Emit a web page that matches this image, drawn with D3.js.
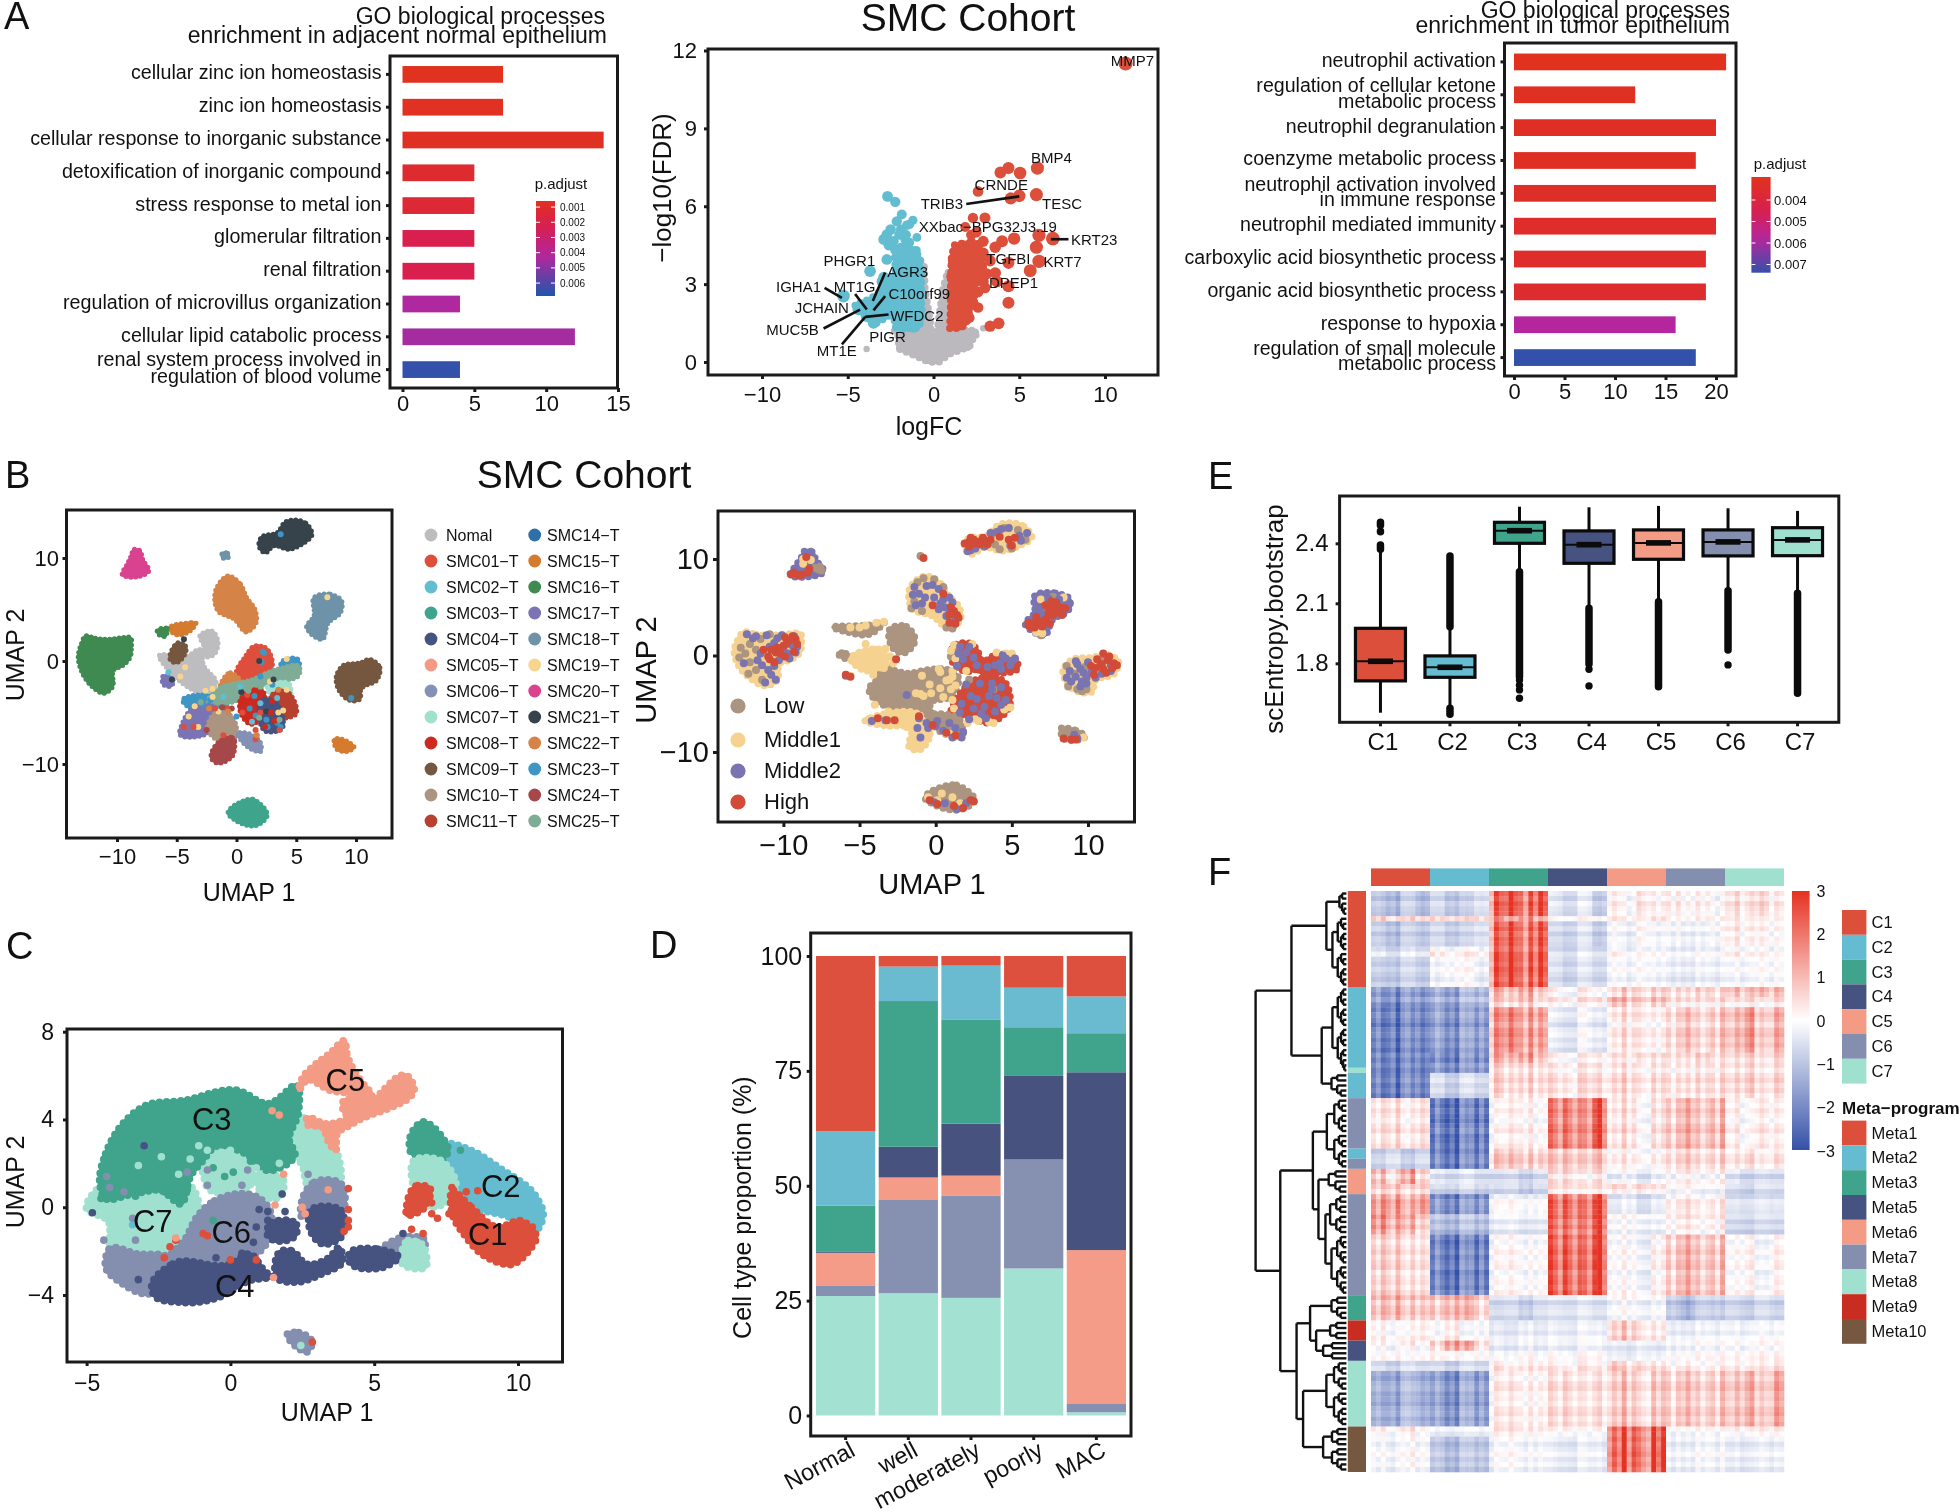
<!DOCTYPE html>
<html><head><meta charset="utf-8">
<script src="https://cdn.jsdelivr.net/npm/d3@7"></script>
<style>
html,body{margin:0;padding:0;background:#fff}
svg{display:block;font-family:"Liberation Sans",Arial,sans-serif;filter:blur(0.45px)}
text{fill:#111}
</style></head><body><svg id="fig" width="1960" height="1512"></svg>
<script>
// ---------- Panel A data ----------
const goNormalTerms=["cellular zinc ion homeostasis","zinc ion homeostasis","cellular response to inorganic substance","detoxification of inorganic compound","stress response to metal ion","glomerular filtration","renal filtration","regulation of microvillus organization","cellular lipid catabolic process","renal system process involved in\nregulation of blood volume"];
const goNormalCounts=[7,7,14,5,5,5,5,4,12,4];
const goNormalP=[0.0005,0.0006,0.0007,0.0011,0.0013,0.0022,0.0022,0.0043,0.0045,0.0065];
const goNormalPTicks=[0.001,0.002,0.003,0.004,0.005,0.006];
const goTumorTerms=["neutrophil activation","regulation of cellular ketone\nmetabolic process","neutrophil degranulation","coenzyme metabolic process","neutrophil activation involved\nin immune response","neutrophil mediated immunity","carboxylic acid biosynthetic process","organic acid biosynthetic process","response to hypoxia","regulation of small molecule\nmetabolic process"];
const goTumorCounts=[21,12,20,18,20,20,19,19,16,18];
const goTumorP=[0.0030,0.0031,0.0032,0.0032,0.0033,0.0034,0.0034,0.0035,0.0058,0.0074];
const goTumorPTicks=[0.004,0.005,0.006,0.007];
// volcano (logFC, -log10 FDR)
const volcanoUp=[[11.2,11.5],[6.06,7.47],[4.37,7.47],[3.9,7.3],[5.05,7.28],[6,6.45],[2.6,6.57],[4.5,6.3],[5,6.4],[2.3,5.55],[3,5.55],[1.85,5.2],[6.15,4.88],[6.96,4.75],[4.7,4.75],[4,4.65],[3.6,4.42],[2.9,4.65],[2.5,5],[6,4.42],[6.15,3.88],[4.37,3.82],[5.64,3.52],[3.6,3.43],[3.7,3.1],[4.37,2.92],[3,2.86],[4.37,2.28],[3.8,1.49],[3.3,1.38],[2.6,2.1],[2.1,1.7],[1.3,4.3],[1.7,4.5],[2.2,4.6],[2.6,4.5],[1.1,3.9],[1,3.3],[1,2.6],[1.1,1.6],[1.4,1.4],[2,1.9],[2.8,3.6],[2.9,3.1],[2.6,2.7],[2.3,2.3],[1.9,1.6],[1.5,4.1],[2.2,4.9],[2.9,4.2],[3.3,3.9],[3.1,3.4],[2,4.3]];
const volcanoDown=[[-2.68,6.38],[-2.23,6.17],[-1.85,5.68],[-1.2,5.46],[-2.14,5.42],[-1.55,5.27],[-2.72,4.91],[-2.9,4.72],[-2.33,4.65],[-1.65,4.72],[-0.97,4.8],[-2.72,3.95],[-3.7,3.5],[-2.9,3.27],[-5.25,2.54],[-4.37,2.03],[-3.5,1.5],[-3.9,1.77],[-2.2,4.3],[-1.8,4.4],[-1.4,4.6],[-1,4.3],[-0.8,3.9],[-2,4.9],[-1.6,4.9],[-2.5,2.8],[-3,3.1],[-2.8,2.4],[-3.5,2.1],[-4.1,2],[-3.2,1.7],[-2.2,1.6],[-1.2,1.3],[-1.8,1.3],[-0.7,2],[-2.6,4.5],[-1.4,5.3],[-2.5,5.1],[-1.9,5.1]];
const volcanoNs=[[-3.9,0.5],[-2,0.55],[-1.6,0.6],[2,0.55],[2.5,1.03],[2.9,1.3],[-0.8,0.2],[1,0.35],[1.3,0.6],[-1,1],[-2.3,1.2],[-0.7,3.7],[-0.55,3.2]];
const volcanoUpMass=[[0.95,1.3],[1,2.2],[1,3.2],[1.05,4],[1.2,4.5],[1.9,4.6],[2.6,4.3],[2.9,3.8],[2.9,3.2],[2.4,3],[2.4,2.3],[2,2],[1.9,1.5],[1.6,1.3]];
const volcanoDownMass=[[-2.3,4.4],[-1.5,4.5],[-0.95,4.2],[-0.7,3.5],[-0.7,2.5],[-0.7,1.6],[-0.9,1.3],[-2.2,1.3],[-2.3,1.9],[-3.3,1.5],[-3.9,1.7],[-4.6,2.2],[-3.8,2.4],[-3.3,2.6],[-2.5,3.2],[-2.2,3.4]];
const volcanoNsMass=[[-2.1,1.25],[-0.8,1.25],[-0.75,3.9],[-0.55,3.7],[-0.5,2.8],[-0.2,1.6],[-0.05,0.6],[0.1,0.6],[0.3,1.6],[0.55,2.8],[0.85,3.5],[1,3],[1,1.3],[2.5,1.2],[2.1,0.6],[0.9,0.3],[0.3,0],[-0.3,0],[-0.9,0.2],[-2,0.5]];
const geneLabels=[["MMP7",11.6,11.6],["BMP4",6.87,7.86],["CRNDE",3.95,6.83],["TRIB3",0.49,6.09],["TESC",7.5,6.09],["XXbac−BPG32J3.19",3.17,5.23],["KRT23",9.37,4.72],["TGFBI",4.37,3.97],["KRT7",7.52,3.88],["DPEP1",4.67,3.05],["PHGR1",-4.9,3.9],["AGR3",-1.5,3.46],["IGHA1",-7.87,2.9],["MT1G",-4.6,2.92],["C10orf99",-0.83,2.63],["JCHAIN",-6.51,2.09],["WFDC2",-0.97,1.8],["MUC5B",-8.22,1.26],["PIGR",-2.68,0.97],["MT1E",-5.64,0.42]];
const geneLinks=[[1.91,6.09,5,6.38],[6.84,4.73,7.87,4.73],[-2.82,3.45,-3.54,2.35],[-2.82,2.54,-3.5,1.99],[-4.57,2.62,-3.89,2.02],[-6.35,2.86,-5.34,2.47],[-6.41,1.29,-4.28,2.02],[-2.62,1.83,-3.98,1.74],[-5.34,0.68,-3.98,1.74]];

// ---------- Panel B data ----------
const sampleNames=["Nomal","SMC01−T","SMC02−T","SMC03−T","SMC04−T","SMC05−T","SMC06−T","SMC07−T","SMC08−T","SMC09−T","SMC10−T","SMC11−T","SMC14−T","SMC15−T","SMC16−T","SMC17−T","SMC18−T","SMC19−T","SMC20−T","SMC21−T","SMC22−T","SMC23−T","SMC24−T","SMC25−T"];
const sampleColors=["#bdbdc0","#dd4f3c","#62bcd2","#3ea58c","#46527f","#f49a84","#8490b5","#a0e0cc","#cc2a1f","#75573f","#ab9480","#b7402f","#2f70a8","#d57b2e","#3e8a50","#7a74b4","#6e93a8","#f8d58f","#d9428e","#36434a","#d58347","#3f96c4","#a64749","#7fac96"];
const islandGreen=[[-12.63,2.43],[-11.8,2.2],[-10.9,2.1],[-9.6,2.25],[-8.87,2.27],[-8.8,1.3],[-8.87,0.49],[-9.6,-0.5],[-10.24,-0.81],[-10.41,-2.59],[-11.09,-3.14],[-12.12,-2.43],[-12.97,-0.97],[-13.24,0.49],[-13,1.6]];
const islandPink=[[-8.6,10.84],[-8.12,10.74],[-7.85,9.87],[-7.34,8.74],[-8.36,8.16],[-9.56,8.41],[-9.15,9.39],[-8.81,10.2]];
const islandDark=[[4.1,13.5],[5.8,13.37],[6.32,12.3],[5.46,11.33],[4.44,10.84],[3.07,11.17],[2.39,10.5],[1.88,11.17],[2.05,11.97],[3.41,12.46]];
const islandTiny=[[-1.2,10.45],[-0.75,10.45],[-0.65,10.1],[-1.2,10.05]];
const islandOrange=[[-0.68,8.25],[0.34,7.44],[0.85,6.15],[1.54,5.02],[1.64,3.72],[0.85,2.82],[-0.17,4.05],[-1.54,4.85],[-1.71,6.96]];
const islandSlate=[[6.48,6.15],[7.85,6.47],[8.8,5.82],[8.7,4.69],[7.68,3.72],[7.17,2.1],[6.14,2.75],[5.87,3.24],[6.48,4.37]];
const islandBrown=[[11.09,0.16],[12,-0.65],[11.78,-1.78],[10.41,-2.75],[10.31,-3.72],[9.73,-3.88],[8.7,-3.07],[8.36,-1.46],[8.87,-0.49],[10.41,-0.16]];
const islandSmall=[[8.19,-7.6],[9.2,-7.77],[9.83,-8.41],[9.39,-8.74],[8.36,-8.51]];
const islandBottom=[[-0.68,-14.89],[1.37,-13.43],[2.56,-15.05],[1.71,-15.95],[0,-15.53]];
const sampleBlobs=[
 ["SMC16−T",islandGreen],["SMC20−T",islandPink],["SMC21−T",islandDark],["SMC18−T",islandTiny],["SMC22−T",islandOrange],["SMC18−T",islandSlate],["SMC09−T",islandBrown],["SMC15−T",islandSmall],["SMC03−T",islandBottom],
 ["SMC17−T",[[-6.14,-1.46],[-5.29,-1.78],[-5.46,-2.43],[-6.14,-2.27]]],
 ["Nomal",[[-6.48,0.49],[-4.1,0.49],[-3.07,1.13],[-2.73,-0.49],[-1.71,-2.1],[-2.39,-3.24],[-3.75,-2.75],[-5.46,-1.13]]],
 ["Nomal",[[-3.07,2.43],[-2.05,2.91],[-1.54,1.78],[-2.05,0.49],[-2.56,0.42],[-2.73,1.46]]],
 ["SMC01−T",[[1.54,1.46],[2.39,1.3],[2.9,-0.81],[2.05,-1.46],[1.37,-1.94],[0,-1.13],[0.68,0.32]]],
 ["SMC22−T",[[-1.37,-2.75],[-0.51,-1.13],[0.34,-2.1],[-0.17,-2.75]]],
 ["SMC23−T",[[3.75,-0.16],[5.12,0.16],[5.29,-0.65],[3.75,-1.13]]],
 ["SMC23−T",[[-4.5,-3.9],[-2.6,-3.3],[-0.7,-4.5],[-2.4,-5.1],[-4,-4.5]]],
 ["SMC25−T",[[5.29,-0.65],[5.29,-1.13],[2.73,-2.1],[-0.68,-4.05],[-2.39,-3.88],[-1.71,-2.91],[1.37,-1.78],[3.41,-0.81]]],
 ["SMC07−T",[[2.56,-2.59],[4.44,-2.27],[4.51,-3.4],[3.07,-3.56]]],
 ["SMC11−T",[[2.9,-3.4],[4.1,-2.91],[4.95,-5.18],[3.75,-5.5],[2.9,-4.37]]],
 ["SMC08−T",[[0.34,-3.72],[2.05,-2.75],[2.39,-5.02],[1.19,-6.15],[0.34,-5.02]]],
 ["SMC04−T",[[2.22,-3.72],[3.07,-3.88],[3.75,-6.63],[2.39,-6.8],[1.88,-5.34]]],
 ["SMC17−T",[[-3.75,-4.69],[-2.05,-4.37],[-2.39,-6.96],[-4.78,-6.96],[-4.61,-6.31]]],
 ["SMC10−T",[[-1.71,-5.02],[-0.85,-5.02],[0,-6.47],[-0.34,-7.77],[-1.71,-7.6],[-2.39,-6.63]]],
 ["SMC24−T",[[-1.37,-7.77],[-0.34,-7.44],[-0.34,-9.22],[-1.71,-9.87],[-2.05,-9.55]]],
 ["SMC06−T",[[0.17,-6.96],[0.68,-6.96],[2.05,-8.09],[2.05,-8.74],[1.02,-8.41]]],
 ["SMC09−T",[[-4.78,1.78],[-4.27,1.46],[-5.12,-0.16],[-5.46,0]]],
 ["SMC15−T",[[-5.63,3.07],[-3.75,3.72],[-3.41,3.72],[-3.75,3.07],[-5.12,2.59]]],
 ["SMC16−T",[[-6.64,2.9],[-5.8,3.15],[-5.97,2.4],[-6.47,2.55]]]
];
const sampleDots=[["SMC23−T",-3.8,-4.1],["SMC23−T",-3.3,-3.9],["SMC23−T",-2.8,-4.2],["SMC23−T",-2.2,-3.8],["SMC23−T",-1.4,-4.8],["SMC23−T",0,-5.4],["SMC23−T",2.1,-0.1],["SMC23−T",2.2,0.9],["SMC23−T",2.3,0.8],["SMC23−T",2,-1.5],["SMC23−T",1.1,-4.6],["SMC23−T",1.6,-5.3],["SMC23−T",2.5,-5.7],["SMC23−T",3.7,-6.4],["SMC23−T",3.4,-6],["SMC23−T",2.6,-6.4],["SMC23−T",3.7,12.3],["SMC23−T",9.6,-3.6],["SMC23−T",3,-2.3],["SMC23−T",1.5,-3.4],
["SMC19−T",7.6,6.2],["SMC19−T",-2.6,-2.9],["SMC19−T",-2,-2.7],["SMC19−T",-3.2,-6.4],["SMC19−T",-4,-5.4],["SMC19−T",-3.5,-4.4],["SMC19−T",3.5,-5],["SMC19−T",2.8,-2],["SMC19−T",4.2,-2.8],["SMC19−T",3.9,-4.8],["SMC19−T",-4.7,-1.5],["SMC19−T",-4.3,-0.6],["SMC19−T",-2,-3.5],["SMC19−T",-1.5,-4.9],["SMC19−T",4.2,0.2],
["SMC01−T",-4.4,-6.4],["SMC01−T",-3.6,-6.4],["SMC01−T",-1.1,-7.2],["SMC01−T",1.6,-6.7],["SMC01−T",1.6,-7.6],["SMC01−T",2,-5],["SMC01−T",0.9,-3.3],["SMC01−T",3.6,-6.7],["SMC01−T",-1.8,-4.6],["SMC01−T",-0.8,-4.6],["SMC01−T",0.5,-5],
["SMC21−T",-4.4,2.1],["SMC21−T",-5.4,-1.8],["SMC21−T",0.4,-3],["SMC21−T",2.5,-4.9],["SMC21−T",3.1,-1.8],["SMC21−T",1.9,0],
["SMC08−T",2.9,-5],["SMC08−T",2.4,-6.4],["SMC08−T",3,-3.9],["SMC08−T",3.2,-5.8],
["SMC02−T",-5.7,-1.1],["SMC02−T",-1.1,-3.5],["SMC02−T",0.3,-2.5],["SMC02−T",2,-4.1],["SMC02−T",3.4,-3.6],["SMC02−T",1.3,-5.9],
["SMC25−T",-3,-4],["SMC25−T",1.9,-5.5],["SMC25−T",3.6,-5.7],["SMC25−T",1,-2.9],["SMC25−T",2,-2.5],
["SMC24−T",-0.2,-7.8],["SMC24−T",-1.2,-4.5],["SMC24−T",-0.4,-4.6],["SMC24−T",-2.5,-6.7],
["SMC22−T",-2.3,-4.6],["SMC22−T",-0.7,-4.9],["SMC22−T",1.7,-7.2],["SMC22−T",3.5,-2.8]];

const gradeNames=["Low","Middle1","Middle2","High"];
const gradeColors=["#ab9480","#f5d28f","#7a74b0","#d24a38"];
const gradeBlobs=[
 ["Middle1",islandGreen],["Middle2",islandPink],["Middle1",islandDark],["Middle1",islandOrange],["Middle2",islandSlate],["Middle1",islandBrown],["Low",islandSmall],["Low",islandBottom],
 ["Low",[[-4.4,-3.55],[-3.72,-2.17],[-4.63,-1.14],[-4.18,-0.45],[-2.82,-1.48],[-1.92,-1.83],[-0.56,-1.48],[0.79,-1.48],[1.47,-2.17],[1.02,-4.24],[-0.34,-4.93],[-0.34,-6.31],[-1.24,-5.97],[-2.37,-5.62],[-3.27,-5.28],[-4.18,-4.24]]],
 ["Low",[[-3.05,2.66],[-1.92,3],[-1.35,1.62],[-2.14,0.24],[-2.71,0.59],[-3.05,1.62]]],
 ["Low",[[-6.66,2.83],[-3.72,3.34],[-3.39,3.52],[-4.18,2.31],[-5.98,2.48]]],
 ["Low",[[-6.43,0.24],[-5.9,0.2],[-5.53,-0.1],[-6,-0.3]]],
 ["Middle1",[[-5.6,-0.4],[-3.4,0.4],[-3.2,-0.6],[-4.6,-1.6]]],
 ["High",[[1.47,-4.24],[2.6,-2.52],[4.51,-2.69],[4.85,-5.28],[3.5,-7],[2.14,-6.31],[1.02,-5.97]]],
 ["High",[[1.13,0.93],[2.26,1.28],[2.93,-1.14],[2.03,-1.66],[1.13,-0.79]]],
 ["High",[[2.82,-1.66],[3.95,0.07],[5.3,-0.45],[5.42,-1.14],[3.72,-1.83]]],
 ["Middle1",[[-4.6,-6.9],[-1,-6.2],[-0.4,-8.4],[-1.1,-9.8],[-1.7,-9.6],[-1.6,-7.6],[-3.2,-7.3]]],
 ["Low",[[-0.5,-6.3],[1.6,-6.7],[1.8,-8.2],[0.4,-8]]]
];
const gradeLowDots=[[-12.2,1.2],[-12.5,0.2],[-11.8,-1.5],[-11.5,1.7],[-7.7,8.9],[-7.5,8.8],[-7.9,9.1],[-7.6,9.2],[3.7,12.6],[4.2,11],[4.5,13.2],[-1.6,4.9],[-0.8,8],[0.9,3.1],[1.1,2.8],[-1.4,5.6],[7.7,6.1],[6.9,2.1],[8.1,5.2],[8.7,-3.2],[9.3,-3.5],[10.8,-0.6],[9.1,-1.9],[8.5,-7.9],[8.9,-8],[9.1,-7.9],[-1,10.3],[3.8,-3.5],[2.2,-2.5],[1,-0.1],[1.4,0.3],[0.6,-13.9],[1.2,-13.8],[1.5,-14.2],[0.8,-14.5],
 [-12.8,0.8],[-12.2,-0.7],[-12.3,-1.9],[-11.4,-2.5],[-10.9,2.2],[-12.9,-0.2],[-11.8,0.6],[5,11.1],[3.9,11.5],[5.4,13],[5.9,12],[-1.2,7.6],[-0.1,7.9],[0.5,7.1],[-0.9,4.6],[1.2,3.3],[0.7,2.9],[8.6,-1.1],[9.6,-3.7],[9.9,-3.5],[11.1,-0.2],[9.8,-1.2]];
const gradeM1Dots=[[-5.4,-0.6],[-5.1,0.1],[-4.6,1.2],[-4,0.6],[-3.3,0.7],[-5.6,-2.1],[-3.6,-0.3],[-3,-0.1],[-2.8,-0.8],[-1,-4],[-0.3,-3.9],[0.5,-4.3],[1,-3.5],[0.2,-1.4],[1.1,-1.6],[1.3,-0.3],[-4.4,-6.6],[-3.3,-6.3],[-3,-7],[-2.5,-7],[-1.9,-7.4],[-1.5,-7],[-1.1,-6.6],[-1.4,-9],[-1.2,-9.6],[-1,-8.5],[-0.9,-9.2],[-0.4,-8.1],[0.6,-8],[0.9,-8.1],[1.3,-8.4],[-5,2.9],[-4.6,3.1],[-3.9,3.4],[-3.4,3.5],[-5.6,2.9],[1.3,-3.1],[2,-1.6],[0.9,-2.5],[3.8,-7],[4.5,-5.6],[2.8,-6.8],[3.5,-6.9],[-8.7,9.5],[-8.2,9.9],[-8.7,10],[6.9,5.8],[7.2,4.6],[8.4,6],[7,2.3],[6.6,2.4],[9.7,-8.5],[0.4,-14.3],[1.1,-14.7],[0.1,-15],[-0.5,-14.7],[1.6,-15.3],
 [2.1,-7],[2.6,-6.6],[4.9,-5.4],[1.1,-4.6],[1.2,-5.5],[2.4,1.2],[1.2,1.1],[1,0.5],[5,0.2],[4,0.3],[4.6,0.2],[-0.4,-3],[0.3,-3.4],[-0.8,-4.2],[0.7,-2.6],[-1.3,-3.9],[1.1,-2.2],[0.3,-1.7],[-0.9,-2.1],[-3.4,-1.3],[-3.9,-0.9],[-4.7,-1],[-4.1,-2],[-2.2,-5.9],[-1.6,-6],[-3.1,-5.8],[-4,-5.1]];
const gradeM2Dots=[[-11.5,0.2],[-10.6,1.3],[-10,0.6],[-9.4,1],[-9.1,0.9],[-11,-1.5],[-10.8,-2],[-11.7,-0.5],[-10.4,1.8],[-9.7,0.2],[-12,1.8],[2.3,10.9],[3.6,12.7],[4.8,13.2],[5.5,12.4],[6,12.7],[4.3,13.1],[-1.4,7.1],[-1.1,6.4],[-0.1,6],[0.5,5.8],[0.6,5],[0.2,4.8],[0.9,4.7],[-0.6,7.2],[-0.9,5.4],[6.9,5],[7.4,5.9],[8.8,5.4],[8.7,4.8],[8.1,5.8],[7,4.3],[9.7,-1.8],[9.9,-2.9],[9.2,-2.2],[9.9,-2.3],[8.8,-1.6],[10.8,-1],[11.5,-1.6],[9.5,-3.2],[9.3,-0.9],[10,-0.7],[9.1,-8.2],[9.3,-8.6],[0.6,-15.3],[1.4,-15.9],[-0.1,-15.2],[2,-15.3],[2.9,-2.9],[3.7,-3.5],[4,-4.4],[3.2,-5.3],[2.5,-5.5],[2.2,-6.6],[3.3,-6.5],[4.3,-5.1],[2,0.3],[2.5,-0.2],[1.6,0.9],[3.9,-1],[4.6,-0.3],[5,-0.6],[4.2,-0.8],[4.4,0],[3.7,-2.9],[-1.9,-4.1],[-3.3,-6.7],[-4.2,-6.8],[-1.1,-6.5],[-0.5,-7.5],[0,-7.3],[0.5,-7.8],[1.1,-8.5],[1.7,-8.5],[-1,-8.5],[-0.6,-7],[-5.9,-2.1],
 [-12.4,2.2],[-11.8,2],[-11.1,2.1],[-10.1,2.1],[-9.3,2],[-9.2,0.3],[-9.6,-0.3],[-10.3,-0.5],[-10.9,0.9],[-11.4,-1],[-10.6,-1.1],[-10.5,-2.5],[-11.2,-2.8],[-12.6,-0.8],[4.9,11.4],[5.6,11.9],[3.2,11.3],[2.1,10.8],[2.6,11.1],[4,12.8],[-1.5,6.3],[-1.3,5.2],[-0.2,7.3],[0.2,6.9],[0.3,5.4],[1.1,5.5],[1.3,3.7],[0.7,4.1],[-0.7,6],[0.9,6],[9.2,-0.6],[9.5,-1.4],[10.2,-1.8],[9.6,-2.7],[8.9,-2.7],[10.5,-2.3],[11.5,-1],[10.9,-1.9],[8.6,-2.3],[2,-3],[2.3,-4.2],[1.7,-5],[2.7,-4.5],[3.5,-4.2],[4.3,-3.3],[4.6,-4.6],[3,-6],[3.9,-5.8],[1.6,-5.9],[1.5,0.2],[2.2,0.9],[1.8,-0.4],[2.7,-1],[1.4,-1.1],[4.3,-1.4],[4.9,-1],[3.4,-1.2],[5.2,-0.3],[0.9,-7],[1.3,-7.5],[0.1,-6.8],[1.8,-7.9],[-1.2,-7.5]];
const gradeHighDots=[[-10.5,0.3],[-11,-0.1],[-10,1],[-9.6,1.6],[-9.2,1.7],[-10.2,0.2],[-11.3,0.6],[-9.8,1.2],[-10.9,-0.4],[-8.8,8.4],[-9.3,8.6],[-8.3,9],[-8.4,8.6],[-8.5,10.2],[2.2,11.3],[2.8,11.8],[3.2,11.9],[3.6,12],[2.5,12],[2.9,11.5],[4.8,12],[5,11.4],[1.2,4.6],[1.4,4.2],[0.5,6.4],[0.9,3.4],[6.1,3.1],[6.5,2.9],[7,3],[7.2,3.7],[7.7,5],[8.2,5],[7.4,4.2],[8,4.5],[7.6,5.6],[6.4,3.3],[6.8,3.5],[11,0.2],[11.3,-0.5],[11.7,-0.8],[10.5,-1.3],[11,-1.4],[11.2,-1.8],[10.2,-1.1],[8.4,-8.6],[8.9,-8.7],[9.2,-8.7],[-0.4,-15],[1.2,-15.6],[1.8,-15.8],[2.3,-15],[2.5,-15.1],[0.1,-15.4],[-0.8,10.1],[-5.9,-2],[-5.6,-2.2],[-2.7,-6.7],[-3.8,-6.5],[-3.2,-6.7],[-1.1,-6.3],[0.7,-8],[1.3,-8.3],[-2.6,-0.4],[-0.2,-7.2],
 [-9.4,2],[-10.4,0.8],[-9.9,1.9],[-9.1,1.2],[-9.3,0.4],[-10.8,0.6],[-10.6,-0.7],[-9.9,-0.1],[2.2,11.8],[2.5,11.6],[3.1,12.2],[3.4,11.5],[4.2,12.3],[5.2,12.2],[2.3,12.2],[1.9,11.6],[1.5,3.9],[1.3,3.3],[0.9,4.2],[-0.2,5.2],[1,5],[6.3,2.9],[6.9,3.2],[7.5,3.3],[7.7,4.2],[8.3,4.2],[7.2,5.2],[7.9,5.5],[8.5,4.9],[6.1,3.4],[6.6,4],[7.4,4.8],[11.6,-1.3],[10.6,-0.4],[11.9,-1],[10.9,-0.9],[11.4,-0.1],[10.4,-2],[-9.5,8.4],[-9,8.3]];
const gradeDots={Low:gradeLowDots,Middle1:gradeM1Dots,Middle2:gradeM2Dots,High:gradeHighDots};

// ---------- Panel C data ----------
const clusterNames=["C1","C2","C3","C4","C5","C6","C7"];
const clusterColors=["#dc4f3b","#65bcd0","#3fa48b","#46527f","#f39b84","#848fb0","#a0e0cf"];
const epiBlobs=[
 ["C2",[[7.44,2.89],[8.38,2.59],[9.31,1.83],[10.64,0.46],[10.88,-0.3],[10.64,-1.07],[9.71,-0.46],[8.51,0],[7.71,0.91],[7.31,1.07]]],
 ["C3",[[6.64,3.88],[7.44,3.04],[7.58,2.59],[7.31,2.13],[6.64,2.28],[6.31,2.44],[6.25,3.2]]],
 ["C7",[[6.38,2.13],[7.31,2.13],[7.84,0.91],[7.58,0.3],[6.91,0],[6.38,0.91]]],
 ["C1",[[7.71,0.76],[8.38,0],[9.31,-0.91],[10.11,-0.61],[10.64,-1.37],[10.38,-1.98],[9.84,-2.59],[8.91,-2.28],[8.11,-1.22],[7.71,-0.3]]],
 ["C1",[[6.11,-0.15],[6.51,0.99],[6.91,0.91],[6.64,-0.15],[6.11,-0.3]]],
 ["C7",[[-5,-0.08],[-4.41,1.07],[-3.48,1.37],[-2.01,1.37],[-1.34,0.91],[-1.08,-0.3],[-1.61,-1.52],[-2.28,-2.28],[-2.94,-2.59],[-4.14,-1.98],[-4.27,-0.61]]],
 ["C7",[[-1.21,2.74],[0.52,2.59],[0.65,0.91],[-0.81,0.91],[-0.95,1.52]]],
 ["C7",[[0.92,1.52],[1.85,1.22],[1.72,0.46],[1.19,0.46]]],
 ["C7",[[2.25,4.11],[3.05,3.65],[3.72,2.44],[3.78,1.07],[2.65,1.07],[2.52,1.83],[2.25,2.44],[2.12,3.35]]],
 ["C3",[[-4.54,1.07],[-4.34,2.44],[-3.74,3.81],[-3.01,4.6],[-1.61,4.87],[0.25,5.33],[1.32,4.72],[2.32,5.56],[2.36,4.26],[2.05,3.04],[2.25,2.44],[1.32,1.67],[0.52,2.44],[-0.55,2.74],[-0.95,2.13],[-1.34,1.52],[-1.74,0.15],[-2.41,0.76],[-3.34,0.61],[-4.41,0.46]]],
 ["C6",[[-1.08,-0.3],[-0.55,0.3],[1.05,0.38],[1.32,0],[1.32,-1.52],[0.92,-2.13],[-0.01,-2.44],[-0.55,-2.59],[-1.74,-2.74],[-2.41,-2.74],[-1.61,-1.52]]],
 ["C6",[[-4.34,-2.74],[-4.21,-1.9],[-3.21,-2.13],[-2.15,-2.28],[-1.74,-2.89],[-2.94,-3.96],[-3.74,-3.5]]],
 ["C4",[[-2.74,-3.65],[-2.01,-2.59],[-0.01,-2.59],[0.65,-2.13],[1.32,-3.04],[1.45,-3.12],[0.65,-3.35],[-0.41,-4.11],[-1.74,-4.34],[-2.68,-3.96]]],
 ["C4",[[1.78,-1.98],[2.12,-1.98],[2.65,-2.59],[3.45,-2.28],[3.78,-1.83],[3.91,-2.44],[3.18,-3.04],[2.25,-3.42],[1.65,-3.27]]],
 ["C6",[[2.52,0.46],[2.92,1.14],[3.85,1.07],[3.91,-0.15],[2.78,-0.3],[2.52,-0.46]]],
 ["C4",[[2.78,-0.15],[3.85,-0.15],[3.85,-1.37],[3.18,-1.67],[2.78,-1.07]]],
 ["C4",[[1.32,-0.85],[2.3,-0.8],[2.3,-1.2],[1.5,-1.5],[1.3,-1.3]]],
 ["C6",[[5.18,-1.98],[5.98,-1.37],[6.78,-1.52],[6.64,-2.13]]],
 ["C7",[[5.98,-2.59],[6.18,-1.52],[6.64,-1.67],[6.78,-2.74]]],
 ["C4",[[4.11,-2.21],[5.11,-1.9],[5.85,-2.28],[5.31,-2.74],[4.11,-2.36]]],
 ["C5",[[3.98,7.58],[4.05,7],[4.71,5.48],[4.91,5.18],[4.65,4.41],[3.98,4.26],[3.91,4.79],[4.38,5.08],[3.45,5.33],[2.65,5.78],[2.38,5.33],[2.52,5.94],[2.85,6.39],[3.45,7]]],
 ["C5",[[2.65,4.03],[3.32,3.81],[4.25,4.11],[6.25,5.86],[6.35,5.63],[4.25,3.81],[3.72,3.35],[3.65,2.59],[3.45,2.89],[3.18,3.65],[2.65,3.81]]],
 ["C6",[[1.98,-5.78],[2.38,-5.71],[2.85,-6.18],[2.65,-6.6],[2.32,-6.39]]]
];
const epiDots={
 C3:[[-3.9,1.1],[-3.4,1.2],[-2.9,1],[-2.2,1.1],[-1.9,0.6],[-1.5,0.8],[-4.5,0.4],[-3.3,0.5],[-2.3,0.7],[-0.6,1.8],[-0.2,1.4],[0.1,1.6],[0.7,2.1],[1.4,2.4],[1.6,2.2],[-0.6,-0.6],[8,2.6],[2,4.5]],
 C7:[[-3.2,1.9],[-1.1,2.8],[-0.8,2.6],[-1.4,2.2],[-1.8,1.5],[-0.3,2.5],[0.9,1.8],[1.7,2],[0,2.6],[-2.4,2.3],[2.45,-6.3],[6.5,-1.6],[6.7,-2.3]],
 C6:[[-4.3,1.4],[-4.2,0.9],[-3.7,0.7],[-3.4,-0.5],[-3.3,-1.5],[-4.4,-1.5],[-1.5,1.6],[-0.8,1.7],[-0.8,1],[0.6,1.7],[-0.3,0.1],[0.4,1],[2.7,1.5],[3,0.9]],
 C4:[[-0.5,-2.3],[0.4,-2.1],[0.9,-0.9],[1.3,-0.6],[1.8,0.6],[1.9,-0.2],[1.3,-0.2],[1,-0.1],[-4.8,-0.25],[-3,2.8],[2.9,-0.1],[6,-1.2],[-2.3,-3],[-3.2,-3.3],[0.8,-1.6]],
 C1:[[-0.95,-1.2],[-0.8,-1.3],[-2.1,-1.8],[-1.9,-1.5],[-2.3,-2.3],[0,-2.4],[0.9,-2.4],[4.1,0.85],[4.1,-0.1],[4.1,-0.6],[4.1,-0.9],[3.95,-1.1],[7.7,0.9],[8.2,0.7],[8.6,0.75],[7,-0.3],[7.2,-0.5],[6.3,-1],[6.7,-1.2],[7.6,-0.3],[10.5,-0.9],[2.85,-6.15],[7,0.2],[6.8,0.5]],
 C5:[[-1.9,-1.4],[1.85,1.5],[2.5,0],[2.6,-0.3],[3.4,0.8],[1.5,-3.2],[1.55,0.1],[1.45,4.4],[1.7,4.2]],
 C2:[[-3.4,-0.8]]
};
const epiLabels=[["C3",-0.65,4.0],["C5",4.0,5.8],["C2",9.4,0.95],["C1",8.95,-1.2],["C7",-2.7,-0.65],["C6",0.03,-1.15],["C4",0.15,-3.6]];

// ---------- Panel D data ----------
const gradeCats=["Normal","well","moderately","poorly","MAC"];
const propC1=[38.1,2.3,2.1,6.9,8.8];
const propC2=[16.2,7.5,11.7,8.6,8];
const propC3=[10.1,31.7,22.7,10.6,8.5];
const propC4=[0.2,6.7,11.3,18.2,38.7];
const propC5=[7.2,4.9,4.4,0,33.5];
const propC6=[2.2,20.3,22.2,23.7,1.8];
const propC7=[26,26.6,25.6,32,0.7];

// ---------- Panel E data ----------
// q1, median, q3, whisker low, whisker high
const entropyBoxes=[[1.712,1.81,1.975,1.553,2.367],[1.73,1.78,1.837,1.583,1.983],[2.4,2.463,2.505,2.258,2.583],[2.3,2.393,2.462,2.075,2.58],[2.32,2.402,2.467,2.108,2.587],[2.337,2.407,2.467,2.163,2.575],[2.338,2.417,2.478,2.15,2.562]];
const entropyRuns=[[[2.37,2.392],[2.458,2.46],[2.49,2.505]],[[1.983,2.337],[1.545,1.575]],[[1.733,2.258]],[[1.797,2.075]],[[1.683,2.108]],[[1.867,2.163]],[[1.65,2.15]]];
const entropyOutliers=[[],[],[1.717,1.69,1.667,1.625],[1.77,1.687],[],[1.792],[]];

// ---------- Panel F data ----------
const rowGroupLabels=["C1","C2","C7","C2","C6","C2","C6","C5","C6","C3","Meta9","C4","C7","Meta10"];
const rowGroupCounts=[19,16,1,5,10,2,2,5,20,5,4,4,13,9];
const metaNames=["Meta1","Meta2","Meta3","Meta5","Meta6","Meta7","Meta8","Meta9","Meta10"];
const metaColors=["#dc4f3b","#65bcd0","#3fa48b","#46527f","#f39b84","#848fb0","#a0e0cf","#c92c20","#75583f"];
const bandRows=[5,1,5,2,6,2,2,9,2,2,5,10,4,3,2,4,4,12,5,4,2,2,2,11,2,7];
const heatTenths=[
[-9,-13,-7,-12,-6,-10,-8,-5,20,26,18,28,-4,-7,-3,-9,2,-1,4,1,3,0,2,-1,5,3,6,2],
[4,1,3,2,3,1,4,2,12,8,11,9,-2,-3,-1,-2,1,-1,0,1,-1,-2,0,-1,1,-1,0,-1],
[-8,-12,-7,-10,-6,-9,-7,-5,19,24,17,27,-6,-8,-4,-9,-1,-3,1,-2,-1,-3,-2,-1,3,1,2,0],
[-4,-7,-3,-5,2,-1,3,0,19,23,17,26,-5,-7,-3,-6,1,-2,0,-1,-2,-3,-1,-2,2,0,1,-1],
[-8,-10,-6,-9,-2,-1,1,-3,20,25,18,27,-5,-8,-4,-7,-1,-2,0,-2,-3,-4,-2,-3,-1,-2,0,-1],
[-17,-21,-15,-19,-14,-17,-11,-13,10,7,11,8,1,-2,2,-1,3,6,4,5,5,3,6,4,9,7,10,8],
[-17,-22,-15,-18,-13,-16,-11,-12,6,4,7,3,2,1,3,2,9,8,6,7,4,2,3,3,2,3,1,3],
[-20,-24,-17,-21,-15,-19,-14,-17,14,17,12,15,-3,-5,-1,-4,2,4,3,1,6,8,5,7,9,13,7,10],
[-20,-23,-18,-21,-19,-22,-16,-20,11,9,12,9,1,-1,2,1,3,2,4,3,4,3,6,3,4,5,3,5],
[-19,-23,-17,-21,-16,-19,-15,-17,6,4,5,5,3,2,4,3,3,4,2,3,3,2,4,3,4,5,3,4],
[-20,-24,-17,-21,-5,-9,-4,-7,6,4,5,5,4,3,5,4,4,5,3,4,4,3,5,4,5,6,4,5],
[3,5,1,4,-22,-25,-19,-23,0,2,1,0,16,19,14,22,2,4,-1,3,8,10,7,9,2,-1,3,1],
[-8,-5,-9,-6,-20,-23,-18,-21,7,8,6,7,7,9,6,8,1,2,0,1,5,6,4,5,3,4,2,3],
[9,5,12,6,-4,-6,-3,-6,-6,-5,-8,-5,4,6,2,4,-3,-1,-5,-2,1,2,0,1,-4,-7,-5,-6],
[5,7,3,5,-8,-9,-6,-9,-8,-7,-10,-8,2,3,1,2,3,1,4,1,-2,-1,-3,-3,-7,-9,-6,-7],
[13,15,9,14,-18,-21,-16,-19,-1,0,-2,-1,19,22,17,24,-5,-3,-7,-4,2,3,1,2,-5,-6,-4,-5],
[14,12,9,6,-11,-13,-9,-12,-4,-3,-5,-4,18,20,16,23,-2,-1,-3,-3,1,2,0,1,-7,-8,-6,-7],
[6,7,3,4,-20,-23,-18,-22,0,1,-1,0,20,23,18,25,-1,0,-3,1,8,10,7,8,0,1,-2,1],
[8,11,6,7,7,9,12,5,-7,-6,-9,-6,-5,-6,-4,-6,-2,-1,-3,-2,-10,-13,-8,-9,-7,-9,-6,-8],
[1,-1,0,2,-1,2,-2,-1,-4,-5,-3,-4,-3,-4,-2,-3,5,7,3,2,-3,-4,-2,-3,-2,-3,-1,-2],
[1,-1,2,0,6,13,15,4,-3,-4,-2,-3,-2,-3,-1,-2,-3,-4,-2,-4,-1,-2,0,-1,0,-1,1,0],
[0,1,-1,0,1,0,-1,0,-1,-2,0,-1,0,-1,1,0,-3,-4,-2,-3,0,-1,1,0,1,0,2,1],
[-6,-9,-5,-7,-6,-9,-5,-7,3,1,2,3,2,1,3,1,7,4,5,3,1,2,0,1,2,1,3,3],
[-13,-16,-10,-14,-15,-19,-13,-17,2,3,1,2,4,6,3,4,6,8,4,7,7,8,6,7,8,10,7,11],
[1,-1,2,0,-3,-4,-2,-3,2,3,1,2,0,1,-1,0,17,22,16,22,-1,-2,0,-1,1,0,2,1],
[-1,-2,0,-1,-9,-12,-8,-10,-1,0,-2,-1,-3,-4,-2,-3,18,23,17,24,-2,-3,-1,-2,-3,-4,-2,-3]
];
// estimated column (vertical stripe) and row (horizontal band) contrast of the heatmap, in tenths
const heatColumnStripes=[2,-3,4,-1,-4,3,1,-2,5,-3,2,-1,3,-4,1,2,-2,4,-3,1,-1,3,-4,2,-5,4,1,-2,3,-1,2,-3,5,-4,1,-2,4,1,-3,2,-1,-4,3,2,-2,1,4,-3,-2,3,-1,5,-4,1,2,-1,-3,4,-2,3,1,-5,2,-1,4,-2,3,-3,1,2,-4,5,-1,-2,3,-3,1,4,-2,2,-1,-3,4,1];
const heatRowBands=[1,-2,2,0,-1,3,-1,2,-2,1,0,-2,2,1,-1,2,0,-2,1,2,-1,3,-2,-1,2,0,-3,1,2,-1,1,-2,2,-1,1,-2,0,2,-1,1,-2,1,-1,2,0,-2,1,3,-1,0,2,-2,1,2,-1,2,-3,1,3,-1,-2,2,1,0,3,-1,2,-2,1,-2,0,2,-1,1,2,-2,0,1,-1,2,3,-2,1,2,-1,0,1,-1,2,1,-2,0,1,-1,2,0,-2,1,2,-1,0,-2,1,2,-1,1,2,-1,1,-2,0,2,-1,1,-2];
const heatTicks=[3,2,1,0,-1,-2,-3];
// dendrogram: [height, left, right]; a leaf group is [height, rows]
const rowTree=[195,
 [118,[43,[15,5],[30,14]],[53,[30,17],[32,5]]],
 [142,
  [72,[42,14],[60,[38,5],[45,[35,8],[32,12]]]],
  [107,[78,[32,5],[65,[35,4],[50,4]]],[93,[43,13],[50,9]]]]];

// ---------- helpers ----------
const svg=d3.select("#fig");
const fontMain='"Liberation Sans",Arial,sans-serif';
const txt=(g,x,y,s,size,anchor="start",extra={})=>{const t=g.append("text").attr("x",x).attr("y",y).attr("font-size",size).attr("text-anchor",anchor).text(s);Object.entries(extra).forEach(([k,v])=>t.attr(k,v));return t;};
const vtxt=(g,x,y,s,size)=>g.append("text").attr("transform",`translate(${x},${y}) rotate(-90)`).attr("font-size",size).attr("text-anchor","middle").attr("dominant-baseline","central").text(s);
const frame=(g,x0,x1,y0,y1)=>g.append("rect").attr("x",x0).attr("y",y0).attr("width",x1-x0).attr("height",y1-y0).attr("fill","none").attr("stroke","#1a1a1a").attr("stroke-width",3);
function styleAxis(a,size,tw=3){a.select(".domain").remove();a.selectAll(".tick line").attr("stroke","#1a1a1a").attr("stroke-width",tw);a.selectAll(".tick text").attr("font-size",size).attr("font-family",fontMain).attr("fill","#111");return a;}
// a cell cloud: filled outline, its edge a chain of round dots like the scatter's own points
const blob=(g,pts,color,x,y,sw=6)=>{const d=d3.line().x(p=>x(p[0])).y(p=>y(p[1])).curve(d3.curveCatmullRomClosed.alpha(1))(pts);
 g.append("path").attr("d",d).attr("fill",color).attr("stroke",color).attr("stroke-width",sw*0.5).attr("stroke-linejoin","round");
 g.append("path").attr("d",d).attr("fill","none").attr("stroke",color).attr("stroke-width",sw).attr("stroke-linecap","round").attr("stroke-dasharray",`0 ${sw*0.95}`);};
const dots=(g,pts,color,x,y,r)=>g.append("g").selectAll("circle").data(pts).join("circle").attr("cx",d=>x(d[0])).attr("cy",d=>y(d[1])).attr("r",r).attr("fill",color);
[["A",4,29],["B",5,488],["C",6,959],["D",650,958],["E",1208,489],["F",1208,885]].forEach(d=>txt(svg,d[1],d[2],d[0],38));

// ---------- GO bars ----------
function goPanel(cfg){
 const g=svg.append("g");
 const x=d3.scaleLinear().domain(cfg.xd).range(cfg.xr);
 const y=d3.scaleBand().domain(cfg.terms.map((_,i)=>i)).range(cfg.yr).paddingInner(0.49).paddingOuter(0.245);
 const c=d3.scaleLinear().domain(cfg.cd).range(["#e0321f","#d81f4d","#b5269e","#3350aa"]);
 g.selectAll("rect.b").data(cfg.counts).join("rect").attr("x",x(0)).attr("y",(d,i)=>y(i)).attr("width",d=>x(d)-x(0)).attr("height",y.bandwidth()).attr("fill",(d,i)=>c(cfg.p[i]));
 const ax=g.append("g").attr("transform",`translate(0,${cfg.box[3]})`).call(d3.axisBottom(x).ticks(cfg.nt).tickSize(4).tickPadding(cfg.padx));styleAxis(ax,22);
 const ay=g.append("g").attr("transform",`translate(${cfg.box[0]},0)`).call(d3.axisLeft(y).tickSize(4).tickFormat(""));styleAxis(ay,10);
 cfg.terms.forEach((t,i)=>{const ls=t.split("\n"),yc=y(i)+y.bandwidth()/2;ls.forEach((l,j)=>txt(g,cfg.box[0]-8.5,yc+(j-(ls.length-1)/2)*cfg.lead-1.5+6.5,l,cfg.lab,"end"));});
 frame(g,cfg.box[0],cfg.box[1],cfg.box[2],cfg.box[3]);
 cfg.title.forEach(t=>txt(g,t[1],t[2],t[0],23,"end"));
 // legend
 const ly=d3.scaleLinear().domain(cfg.ld).range(cfg.lr);
 const id=cfg.id,lg=svg.append("defs").append("linearGradient").attr("id",id).attr("x1",0).attr("x2",0).attr("y1",0).attr("y2",1);
 d3.range(0,1.0001,0.1).forEach(f=>{const v=cfg.ld[0]+f*(cfg.ld[1]-cfg.ld[0]);lg.append("stop").attr("offset",f).attr("stop-color",c(v));});
 g.append("rect").attr("x",cfg.lx[0]).attr("y",cfg.lr[0]).attr("width",cfg.lx[1]-cfg.lx[0]).attr("height",cfg.lr[1]-cfg.lr[0]).attr("fill",`url(#${id})`);
 cfg.ticks.forEach(v=>{[[cfg.lx[0],cfg.lx[0]+4],[cfg.lx[1]-4,cfg.lx[1]]].forEach(s=>g.append("line").attr("x1",s[0]).attr("x2",s[1]).attr("y1",ly(v)).attr("y2",ly(v)).attr("stroke","#fff").attr("stroke-width",1));
  txt(g,cfg.lx[1]+cfg.lfo,ly(v)+cfg.lfs*0.36,d3.format(".3f")(v),cfg.lfs);});
 txt(g,cfg.ltx,cfg.lty,"p.adjust",cfg.lts,"middle");
}
goPanel({id:"gl",terms:goNormalTerms,counts:goNormalCounts,p:goNormalP,xd:[0,15],xr:[402.5,618],yr:[58,386],nt:4,padx:3,box:[390,617.5,56,388],lead:17,lab:19.7,cd:[0.0005,0.0022,0.0042,0.0065],
 title:[["GO biological processes",605,24],["enrichment in adjacent normal epithelium",607,43]],ld:[0.0006,0.00685],lr:[201,296],lx:[536,555],ticks:goNormalPTicks,lfo:5,lfs:10,ltx:561,lty:189,lts:15});
goPanel({id:"gr",terms:goTumorTerms,counts:goTumorCounts,p:goTumorP,xd:[0,20],xr:[1514,1716],yr:[45.5,374],nt:4,padx:3,box:[1504.5,1736,43,376],lead:15.5,lab:19.6,cd:[0.003,0.0045,0.0058,0.0074],
 title:[["GO biological processes",1730,18],["enrichment in tumor epithelium",1730,33]],ld:[0.00293,0.00738],lr:[177,272.7],lx:[1751.4,1770.6],ticks:goTumorPTicks,lfo:3.5,lfs:13,ltx:1780,lty:169,lts:15});

// ---------- Volcano ----------
{
 const g=svg.append("g");
 const x=d3.scaleLinear().domain([-10,10]).range([762,1105]);
 const y=d3.scaleLinear().domain([0,12]).range([362,50.5]);
 const r=d3.scaleSqrt().domain([0,12]).range([3,7]).clamp(true);
 const lf=d3.line().x(d=>x(d[0])).y(d=>y(d[1]));
 const mass=(p,c)=>{g.append("path").attr("d",lf(p)+"Z").attr("fill",c).attr("stroke",c).attr("stroke-width",4).attr("stroke-linejoin","round");
  g.append("path").attr("d",lf(p)+"Z").attr("fill","none").attr("stroke",c).attr("stroke-width",7.5).attr("stroke-linecap","round").attr("stroke-dasharray","0 7");};
 const cN="#bcb9be",cD="#63bdd1",cU="#dc4f3b";
 mass(volcanoNsMass,cN);
 g.append("g").selectAll("circle").data(volcanoNs).join("circle").attr("cx",d=>x(d[0])).attr("cy",d=>y(d[1])).attr("r",3.2).attr("fill",cN);
 mass(volcanoDownMass,cD);
 g.append("g").selectAll("circle").data(volcanoDown).join("circle").attr("cx",d=>x(d[0])).attr("cy",d=>y(d[1])).attr("r",d=>r(Math.abs(d[0])*1.6)).attr("fill",cD);
 mass(volcanoUpMass,cU);
 g.append("g").selectAll("circle").data(volcanoUp).join("circle").attr("cx",d=>x(d[0])).attr("cy",d=>y(d[1])).attr("r",d=>r(Math.abs(d[0])*1.6)).attr("fill",cU);
 g.selectAll("line.l").data(geneLinks).join("line").attr("x1",d=>x(d[0])).attr("y1",d=>y(d[1])).attr("x2",d=>x(d[2])).attr("y2",d=>y(d[3])).attr("stroke","#111").attr("stroke-width",2.6);
 geneLabels.forEach(d=>txt(g,x(d[1]),y(d[2])+5.3,d[0],15,"middle"));
 const ax=g.append("g").attr("transform","translate(0,375)").call(d3.axisBottom(x).tickValues([-10,-5,0,5,10]).tickSize(4).tickPadding(7));styleAxis(ax,22);
 const ay=g.append("g").attr("transform","translate(708,0)").call(d3.axisLeft(y).tickValues([0,3,6,9,12]).tickSize(4).tickPadding(7));styleAxis(ay,22);
 frame(g,708,1158,49,375);
 txt(g,929,435,"logFC",25,"middle");
 vtxt(g,662,188,"−log10(FDR)",26);
 txt(g,968,31,"SMC Cohort",39,"middle");
}
txt(svg,584,488,"SMC Cohort",39,"middle");

// ---------- UMAP samples ----------
{
 const g=svg.append("g");
 const x=d3.scaleLinear().domain([-10,10]).range([117,356]);
 const y=d3.scaleLinear().domain([-10,10]).range([764,558]);
 const col=d3.scaleOrdinal(sampleNames,sampleColors);
 sampleBlobs.forEach(d=>blob(g,d[1],col(d[0]),x,y,5));
 g.append("g").selectAll("circle").data(sampleDots).join("circle").attr("cx",d=>x(d[1])).attr("cy",d=>y(d[2])).attr("r",3).attr("fill",d=>col(d[0]));
 const ax=g.append("g").attr("transform","translate(0,838)").call(d3.axisBottom(x).tickValues([-10,-5,0,5,10]).tickSize(4).tickPadding(6));styleAxis(ax,22);
 const ay=g.append("g").attr("transform","translate(66.5,0)").call(d3.axisLeft(y).tickValues([-10,0,10]).tickSize(4).tickPadding(3.5));styleAxis(ay,22);
 frame(g,66.5,392,510,838);
 txt(g,249,901,"UMAP 1",25,"middle");
 vtxt(g,15,655,"UMAP 2",25);
 sampleNames.forEach((n,i)=>{const c=i<12?0:1,r=i%12,lx=[431,534.7][c],ty=535+r*26;
  g.append("circle").attr("cx",lx).attr("cy",ty).attr("r",6.4).attr("fill",sampleColors[i]);
  txt(g,[446,547][c],ty+5.5,n,16);});
}
// ---------- UMAP grade ----------
{
 const g=svg.append("g");
 const x=d3.scaleLinear().domain([-10,10]).range([783.4,1088]);
 const y=d3.scaleLinear().domain([-10,10]).range([752,559]);
 const col=d3.scaleOrdinal(gradeNames,gradeColors);
 gradeBlobs.forEach(d=>blob(g,d[1],col(d[0]),x,y,7));
 gradeNames.forEach(n=>dots(g,gradeDots[n],col(n),x,y,4));
 const ax=g.append("g").attr("transform","translate(0,822)").call(d3.axisBottom(x).tickValues([-10,-5,0,5,10]).tickSize(5).tickPadding(7));styleAxis(ax,29);
 const ay=g.append("g").attr("transform","translate(718,0)").call(d3.axisLeft(y).tickValues([-10,0,10]).tickSize(5).tickPadding(4));styleAxis(ay,29);
 frame(g,718,1134.5,511,822);
 txt(g,932,894,"UMAP 1",29,"middle");
 vtxt(g,646,670,"UMAP 2",29);
 gradeNames.forEach((n,i)=>{const ty=[706,740,771,802][i];
  g.append("circle").attr("cx",738).attr("cy",ty).attr("r",7.6).attr("fill",gradeColors[i]);
  txt(g,764,ty+7,n,22);});
}
// ---------- UMAP clusters ----------
{
 const g=svg.append("g");
 const x=d3.scaleLinear().domain([-5,10]).range([86.6,518]);
 const y=d3.scaleLinear().domain([-4,8]).range([1295,1031.7]);
 const col=d3.scaleOrdinal(clusterNames,clusterColors);
 epiBlobs.forEach(d=>blob(g,d[1],col(d[0]),x,y,7.5));
 clusterNames.filter(n=>epiDots[n]).forEach(n=>dots(g,epiDots[n],col(n),x,y,3.8));
 epiLabels.forEach(d=>txt(g,x(d[1]),y(d[2])+11,d[0],31,"middle"));
 const ax=g.append("g").attr("transform","translate(0,1362)").call(d3.axisBottom(x).tickValues([-5,0,5,10]).tickSize(4).tickPadding(8.5));styleAxis(ax,23);
 const ay=g.append("g").attr("transform","translate(67,0)").call(d3.axisLeft(y).tickValues([-4,0,4,8]).tickSize(4).tickPadding(9));styleAxis(ay,23);
 frame(g,67,562.5,1029,1362);
 txt(g,327,1421,"UMAP 1",25,"middle");
 vtxt(g,15,1182,"UMAP 2",25);
}
// ---------- Proportions ----------
{
 const g=svg.append("g");
 const x=d3.scaleBand().domain(gradeCats).range([816,1126]).paddingInner(0.055).paddingOuter(0);
 const y=d3.scaleLinear().domain([0,100]).range([1415.5,956]);
 const table=gradeCats.map((c,i)=>({cat:c,C1:propC1[i],C2:propC2[i],C3:propC3[i],C4:propC4[i],C5:propC5[i],C6:propC6[i],C7:propC7[i]}));
 const keys=clusterNames.slice().reverse();
 const stack=d3.stack().keys(keys)(table);
 const col=d3.scaleOrdinal(clusterNames,["#dc503d","#6abbd0","#40a48c","#47537e","#f49c87","#8690b0","#a3e1d2"]);
 g.selectAll("g.s").data(stack).join("g").attr("fill",d=>col(d.key)).selectAll("rect").data(d=>d).join("rect").attr("x",d=>x(d.data.cat)).attr("width",x.bandwidth()).attr("y",d=>y(d[1])).attr("height",d=>y(d[0])-y(d[1]));
 const ax=g.append("g").attr("transform","translate(0,1436)").call(d3.axisBottom(x).tickSize(4).tickFormat(""));styleAxis(ax,10);
 gradeCats.forEach(c=>g.append("text").attr("transform",`translate(${x(c)+x.bandwidth()/2+11},1455) rotate(-28)`).attr("text-anchor","end").attr("font-size",23.5).text(c));
 const ay=g.append("g").attr("transform","translate(810.7,0)").call(d3.axisLeft(y).tickValues([0,25,50,75,100]).tickSize(4).tickPadding(4.5));styleAxis(ay,25);
 frame(g,810.7,1131,933,1436);
 vtxt(g,742,1207.6,"Cell type proportion (%)",25);
}
// ---------- Boxes ----------
{
 const g=svg.append("g");
 const x=d3.scaleBand().domain(clusterNames).range([1345.7,1832.3]);
 const y=d3.scaleLinear().domain([1.8,2.4]).range([663.3,543.3]);
 const col=d3.scaleOrdinal(clusterNames,clusterColors);
 const hw=25, nw=12.5, nh=0.014, ink="#0b0b0b";
 clusterNames.forEach((c,i)=>{
  const cx=x(c)+x.bandwidth()/2,[q1,m,q3,lo,hi]=entropyBoxes[i];
  g.append("line").attr("x1",cx).attr("x2",cx).attr("y1",y(lo)).attr("y2",y(hi)).attr("stroke",ink).attr("stroke-width",3);
  entropyRuns[i].forEach(r=>g.append("line").attr("x1",cx).attr("x2",cx).attr("y1",y(r[0])).attr("y2",y(r[1])).attr("stroke",ink).attr("stroke-width",7.5).attr("stroke-linecap","round"));
  g.append("g").selectAll("circle").data(entropyOutliers[i]).join("circle").attr("cx",cx).attr("cy",d=>y(d)).attr("r",3.7).attr("fill",ink);
  g.append("rect").attr("x",cx-hw).attr("y",y(q3)).attr("width",2*hw).attr("height",y(q1)-y(q3)).attr("fill",col(c)).attr("stroke",ink).attr("stroke-width",3.2);
  g.append("line").attr("x1",cx-hw).attr("x2",cx+hw).attr("y1",y(m)).attr("y2",y(m)).attr("stroke",ink).attr("stroke-width",2);
  g.append("rect").attr("x",cx-nw).attr("width",2*nw).attr("y",y(m+nh)).attr("height",y(m-nh)-y(m+nh)).attr("fill",ink);
 });
 const ax=g.append("g").attr("transform","translate(0,722.3)").call(d3.axisBottom(x).tickSize(4).tickPadding(7));styleAxis(ax,24);
 ax.selectAll(".tick text").attr("dx",2.5);
 const ay=g.append("g").attr("transform","translate(1339.6,0)").call(d3.axisLeft(y).tickValues([1.8,2.1,2.4]).tickFormat(d3.format(".1f")).tickSize(4).tickPadding(7));styleAxis(ay,24);
 frame(g,1339.6,1838.8,496,722.3);
 vtxt(g,1273.5,619,"scEntropy.bootstrap",26);
}
// ---------- Heatmap ----------
{
 const g=svg.append("g");
 const totalRows=d3.sum(bandRows);
 const nCol=heatColumnStripes.length;
 const perCell=nCol/heatTenths[0].length;
 const x=d3.scaleLinear().domain([0,nCol]).range([1371,1784]);
 const y=d3.scaleLinear().domain([0,totalRows]).range([891,1472]);
 const col=d3.scaleLinear().domain([-3,0,3]).range(["#3450a8","#ffffff","#e63222"]).clamp(true);
 const cells=[];let r0=0;
 heatTenths.forEach((row,b)=>{for(let r=0;r<bandRows[b];r++,r0++){const rs=heatRowBands[r0]||0;
   heatColumnStripes.forEach((st,c)=>{const v=row[Math.floor(c/perCell)]/10;cells.push({r:r0,c,v:v*(1+0.08*st)+0.05*st+0.1*rs});});}});
 g.append("g").selectAll("rect").data(cells).join("rect").attr("x",d=>x(d.c)).attr("width",x(1)-x(0)+0.3).attr("y",d=>y(d.r)).attr("height",y(1)-y(0)+0.3).attr("fill",d=>col(d.v));
 const xc=d3.scaleBand().domain(clusterNames).range([1371,1784]);
 const cc=d3.scaleOrdinal(clusterNames.concat(metaNames),clusterColors.concat(metaColors));
 g.append("g").selectAll("rect").data(clusterNames).join("rect").attr("x",d=>xc(d)).attr("width",xc.bandwidth()).attr("y",868.4).attr("height",17.6).attr("fill",d=>cc(d));
 let s2=0;
 rowGroupLabels.forEach((l,i)=>{g.append("rect").attr("x",1347.8).attr("width",18.2).attr("y",y(s2)).attr("height",y(s2+rowGroupCounts[i])-y(s2)).attr("fill",cc(l));s2+=rowGroupCounts[i];});
 // dendrogram
 const hx=d3.scaleLinear().domain([0,195]).range([1346.4,1255.6]);
 const den=g.append("g").attr("fill","none").attr("stroke","#111").attr("stroke-width",2.4);
 let leaf=0;
 const seg=(x1,y1,x2,y2)=>den.append("line").attr("x1",x1).attr("y1",y1).attr("x2",x2).attr("y2",y2);
 function comb(n,h){ if(n===1){const yy=y(leaf+0.5);leaf++;return {h:0,y:yy};}
   const a=Math.floor(n/2),A=comb(a,h*0.62),B=comb(n-a,h*0.62);return join(h,A,B);}
 function join(h,A,B){const xx=hx(h);seg(xx,A.y,xx,B.y);seg(xx,A.y,hx(A.h),A.y);seg(xx,B.y,hx(B.h),B.y);return {h,y:(A.y+B.y)/2};}
 function walk(t){ if(typeof t[1]==="number") return comb(t[1],t[0]); const A=walk(t[1]),B=walk(t[2]);return join(t[0],A,B);}
 walk(rowTree);
 // colour bar
 const cy=d3.scaleLinear().domain([3,-3]).range([891,1151]);
 const lg=svg.append("defs").append("linearGradient").attr("id","hm").attr("x1",0).attr("x2",0).attr("y1",0).attr("y2",1);
 d3.range(0,1.0001,0.1).forEach(f=>lg.append("stop").attr("offset",f).attr("stop-color",col(3-6*f)));
 g.append("rect").attr("x",1792).attr("y",891).attr("width",17.6).attr("height",259).attr("fill","url(#hm)");
 heatTicks.forEach(v=>txt(g,1816.6,cy(v)+5.7,d3.format("d")(v),16));
 clusterNames.forEach((n,i)=>{const t=910+i*24.8;g.append("rect").attr("x",1842).attr("y",t).attr("width",24.4).attr("height",24.8).attr("fill",clusterColors[i]);txt(g,1871.5,t+18,n,16.5);});
 txt(g,1842,1114,"Meta−program",17,"start",{"font-weight":"bold"});
 metaNames.forEach((n,i)=>{const t=1120.6+i*24.8;g.append("rect").attr("x",1842).attr("y",t).attr("width",24.4).attr("height",24.8).attr("fill",metaColors[i]);txt(g,1871.5,t+18,n,16.5);});
}
</script></body></html>
